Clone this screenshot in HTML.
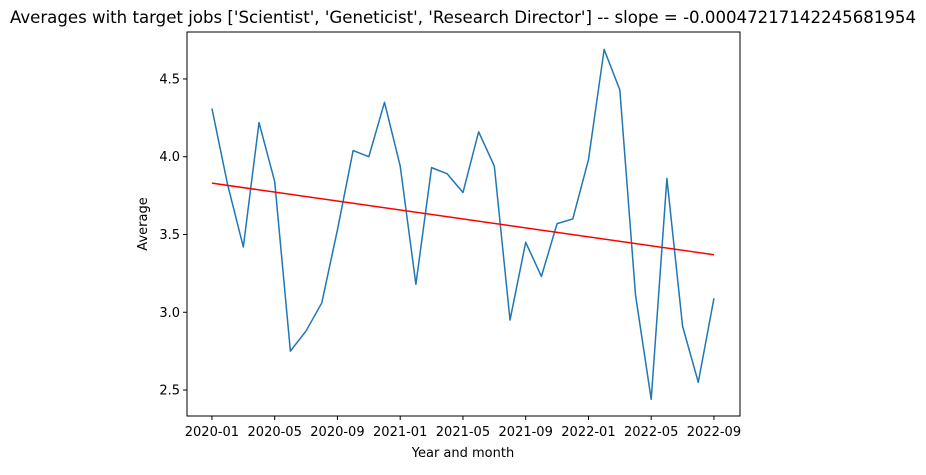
<!DOCTYPE html>
<html><head><meta charset="utf-8"><style>
body{margin:0;background:#fff;font-family:"Liberation Sans","DejaVu Sans",sans-serif;}
svg text{font-family:"DejaVu Sans","Liberation Sans",sans-serif;}
</style></head><body>
<svg id="chart" width="926" height="470">
<text x="463" y="23" text-anchor="middle" font-size="16.6">Averages with target jobs ['Scientist', 'Geneticist', 'Research Director'] -- slope = -0.00047217142245681954</text>
<rect x="187" y="32" width="553" height="384" fill="none" stroke="#000" stroke-width="1"/>
<g id="ticks"></g>
<text x="463" y="457" text-anchor="middle" font-size="13">Year and month</text>
<text transform="translate(147,224) rotate(-90)" text-anchor="middle" font-size="13">Average</text>
</svg>
<script>
const values=[4.31,3.82,3.42,4.22,3.84,2.75,2.88,3.06,3.53,4.04,4.00,4.35,3.94,3.18,3.93,3.89,3.77,4.16,3.94,2.95,3.45,3.23,3.57,3.60,3.98,4.69,4.43,3.11,2.44,3.86,2.91,2.55,3.09];
const trendStart=3.83;
const trendEnd=3.37;
const yTicks=[2.5,3.0,3.5,4.0,4.5];
const xTickLabels=["2020-01","2020-05","2020-09","2021-01","2021-05","2021-09","2022-01","2022-05","2022-09"];
const NS="http://www.w3.org/2000/svg";
const svg=document.getElementById('chart');
const g=document.getElementById('ticks');
const x0=187,x1=740,y0=416,y1=32;
const xMin=-1.59,xMax=33.66,yMin=2.333,yMax=4.802;
function sx(m){return x0+(m-xMin)/(xMax-xMin)*(x1-x0);}
function sy(v){return y0-(v-yMin)/(yMax-yMin)*(y0-y1);}
function el(t,a){const e=document.createElementNS(NS,t);for(const k in a)e.setAttribute(k,a[k]);return e;}
yTicks.forEach(v=>{
  const l=el('line',{x1:x0-4,x2:x0,y1:sy(v),y2:sy(v),stroke:'#000'});
  
  
  g.appendChild(l);
  const t=el('text',{x:x0-7,y:sy(v)+4.5,'text-anchor':'end','font-size':'13'});
  t.textContent=v.toFixed(1);
  
  
  g.appendChild(t);
});
xTickLabels.forEach((s,i)=>{
  const m=i*4;
  const l=el('line',{x1:sx(m),x2:sx(m),y1:y0,y2:y0+4,stroke:'#000'});
  
  
  g.appendChild(l);
  const t=el('text',{x:sx(m),y:y0+20,'text-anchor':'middle','font-size':'13'});
  t.textContent=s;
  
  
  g.appendChild(t);
});
const pts=values.map((v,i)=>sx(i).toFixed(2)+','+sy(v).toFixed(2)).join(' ');
const line=el('polyline',{points:pts,fill:'none',stroke:'#1f77b4','stroke-width':'1.5','stroke-linejoin':'round'});


svg.appendChild(line);
const n=values.length-1;
const tr=el('line',{x1:sx(0),y1:sy(trendStart),x2:sx(n),y2:sy(trendEnd),stroke:'#ff0000','stroke-width':'1.5'});


svg.appendChild(tr);
</script>
</body></html>
